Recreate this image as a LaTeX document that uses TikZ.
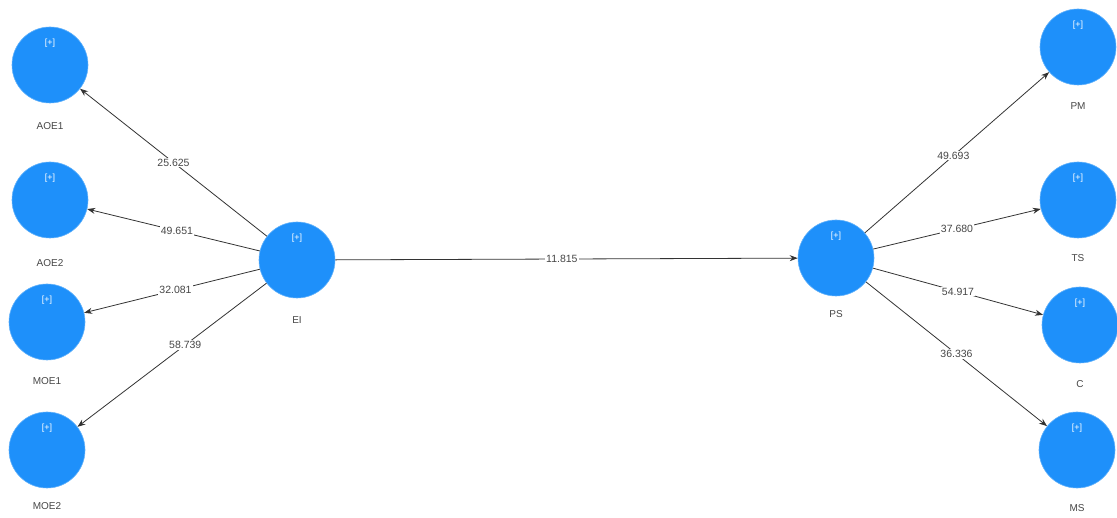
\documentclass[tikz,border=0pt]{standalone}
\usepackage{fontspec}
\setmainfont{Liberation Sans}
\usetikzlibrary{arrows.meta}
\definecolor{lv}{RGB}{30,144,250}
\definecolor{lab}{RGB}{70,70,70}
\begin{document}
\begin{tikzpicture}[x=1pt,y=-1pt,
  lvnode/.style={circle,fill=lv,draw=lv!70!white,line width=0.6pt,minimum size=76pt,inner sep=0pt},
  plusmark/.style={text=white,font=\fontsize{9}{9}\selectfont},
  lvname/.style={text=lab,font=\fontsize{10}{10}\selectfont},
  wt/.style={fill=white,inner sep=1pt,text=lab,font=\fontsize{10.5}{10.5}\selectfont},
  conn/.style={draw=black!80,line width=0.8pt,-{Stealth[length=8pt,width=6pt]}}]
\useasboundingbox (0,0) rectangle (1117,518);
% nodes
\node[lvnode] (AOE1) at (50,65) {};
\node[lvnode] (AOE2) at (50,200) {};
\node[lvnode] (MOE1) at (47,322) {};
\node[lvnode] (MOE2) at (47,450) {};
\node[lvnode] (EI) at (297,260) {};
\node[lvnode] (PS) at (836,258) {};
\node[lvnode] (PM) at (1078,47) {};
\node[lvnode] (TS) at (1078,200) {};
\node[lvnode] (C) at (1080,325) {};
\node[lvnode] (MS) at (1077,450) {};
% plus marks
\foreach \n in {AOE1,AOE2,MOE1,MOE2,EI,PS,PM,TS,C,MS}{
  \node[plusmark] (\n-p) at ([yshift=22pt]\n.center) {[+]};
}
% names
\node[lvname] (AOE1-l) at (50,126) {AOE1};
\node[lvname] (AOE2-l) at (50,263) {AOE2};
\node[lvname] (MOE1-l) at (47,381) {MOE1};
\node[lvname] (MOE2-l) at (47,506) {MOE2};
\node[lvname] (EI-l) at (297,320) {EI};
\node[lvname] (PS-l) at (836,314) {PS};
\node[lvname] (PM-l) at (1078,106) {PM};
\node[lvname] (TS-l) at (1078,258) {TS};
\node[lvname] (C-l) at (1080,384) {C};
\node[lvname] (MS-l) at (1077,508) {MS};
% connectors
\draw[conn] (EI) -- node[wt,pos=0.5] {25.625} (AOE1);
\draw[conn] (EI) -- node[wt,pos=0.48] {49.651} (AOE2);
\draw[conn] (EI) -- node[wt,pos=0.48] {32.081} (MOE1);
\draw[conn] (EI) -- node[wt,pos=0.43] {58.739} (MOE2);
\draw[conn] (EI) -- node[wt,pos=0.49] {11.815} (PS);
\draw[conn] (PS) -- node[wt,pos=0.48] {49.693} (PM);
\draw[conn] (PS) -- node[wt,pos=0.5] {37.680} (TS);
\draw[conn] (PS) -- node[wt,pos=0.5] {54.917} (C);
\draw[conn] (PS) -- node[wt,pos=0.5] {36.336} (MS);
\end{tikzpicture}
\end{document}
